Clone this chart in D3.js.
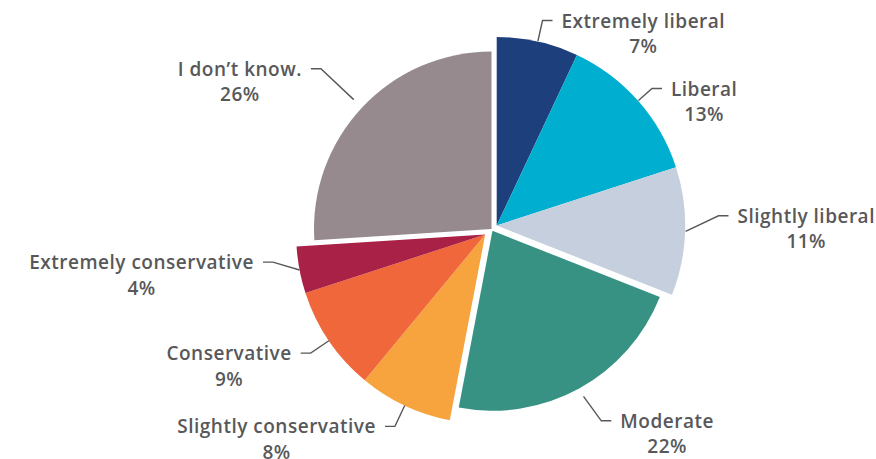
<!DOCTYPE html>
<html>
<head>
<meta charset="utf-8">
<script src="https://cdn.jsdelivr.net/npm/d3@7"></script>
<style>
  body { margin: 0; background: #fff; }
  svg text { font-family: "Open Sans", Lato, sans-serif; font-weight: 600; fill: #58585a; letter-spacing: 0.5px; }
</style>
</head>
<body>
<svg id="chart"></svg>
<script>
// data
const categories = ['Extremely liberal', 'Liberal', 'Slightly liberal', 'Moderate',
                    'Slightly conservative', 'Conservative', 'Extremely conservative', 'I don’t know.'];
const shares = [7, 13, 11, 22, 8, 9, 4, 26];
const groups = ['liberal', 'liberal', 'liberal', 'moderate',
                'conservative', 'conservative', 'conservative', 'unsure'];
const colors = ['#1d3f7b', '#00aecf', '#c6cfde', '#389284', '#f7a33e', '#ef673a', '#a92146', '#968a8f'];

let width = 876, height = 459;
let cx = 491.5, cy = 229;

// each block of slices is pulled out along its own middle angle
let groupLayout = {
  liberal:      {explode: 6.3, radius: 188.5},
  moderate:     {explode: 2,   radius: 180},
  conservative: {explode: 8.4, radius: 189},
  unsure:       {explode: 0,   radius: 177.5}
};
// leader line: elbow distance past the anchor ring and a small turn (degrees)
let leaderLayout = [
  {len: 21, turn: 0}, {len: 18, turn: 0}, {len: 33, turn: -4.3}, {len: 30, turn: -1},
  {len: 23, turn: 0}, {len: 22, turn: 0}, {len: 25, turn: 3.4}, {len: 45, turn: 0}
];
let anchorRadius = 189;

let svg = d3.select('#chart')
            .attr('width', width)
            .attr('height', height);

svg.append('rect')
   .attr('width', width)
   .attr('height', height)
   .attr('fill', '#fff');

let rows = categories.map((c, i) => ({name: c, value: shares[i], group: groups[i], color: colors[i], idx: i}));

let arcs = d3.pie()
             .sort(null)
             .value(d => d.value)(rows);

// middle angle of each group
let groupMid = {};
Object.keys(groupLayout).forEach(g => {
  let members = arcs.filter(a => a.data.group === g);
  let a0 = d3.min(members, a => a.startAngle);
  let a1 = d3.max(members, a => a.endAngle);
  groupMid[g] = (a0 + a1) / 2;
});

function groupOrigin(g) {
  let p = d3.pointRadial(groupMid[g], groupLayout[g].explode);
  return [cx + p[0], cy + p[1]];
}

let pieGp = svg.append('g').classed('slices', true);

pieGp.selectAll('path')
  .data(arcs)
  .enter()
  .append('path')
  .attr('transform', d => 'translate(' + groupOrigin(d.data.group) + ')')
  .attr('d', d => d3.arc().innerRadius(0).outerRadius(groupLayout[d.data.group].radius)(d))
  .attr('fill', d => d.data.color);

let labelGp = svg.append('g').classed('labels', true);

arcs.forEach(d => {
  let o = groupOrigin(d.data.group);
  let mid = (d.startAngle + d.endAngle) / 2;
  let lay = leaderLayout[d.data.idx];
  let a = d3.pointRadial(mid, anchorRadius);
  let e = d3.pointRadial(mid + lay.turn * Math.PI / 180, anchorRadius + lay.len);
  let right = Math.sin(mid) > 0;
  let x1 = o[0] + a[0], y1 = o[1] + a[1];
  let x2 = o[0] + e[0], y2 = o[1] + e[1];
  let x3 = x2 + (right ? 10 : -10);

  labelGp.append('path')
    .attr('d', d3.line()([[x1, y1], [x2, y2], [x3, y2]]))
    .attr('fill', 'none')
    .attr('stroke', '#58585a')
    .attr('stroke-width', 1.4);

  let txt = labelGp.append('text')
    .attr('font-size', 19)
    .attr('text-anchor', 'middle');
  let t1 = txt.append('tspan').text(d.data.name);
  let w = t1.node().getComputedTextLength();
  let xc = right ? x3 + 9 + w / 2 : x3 - 9 - w / 2;
  t1.attr('x', xc).attr('y', y2 + 7);
  txt.append('tspan')
    .attr('x', xc)
    .attr('y', y2 + 32.5)
    .text(d.data.value + '%');
});
</script>
</body>
</html>
